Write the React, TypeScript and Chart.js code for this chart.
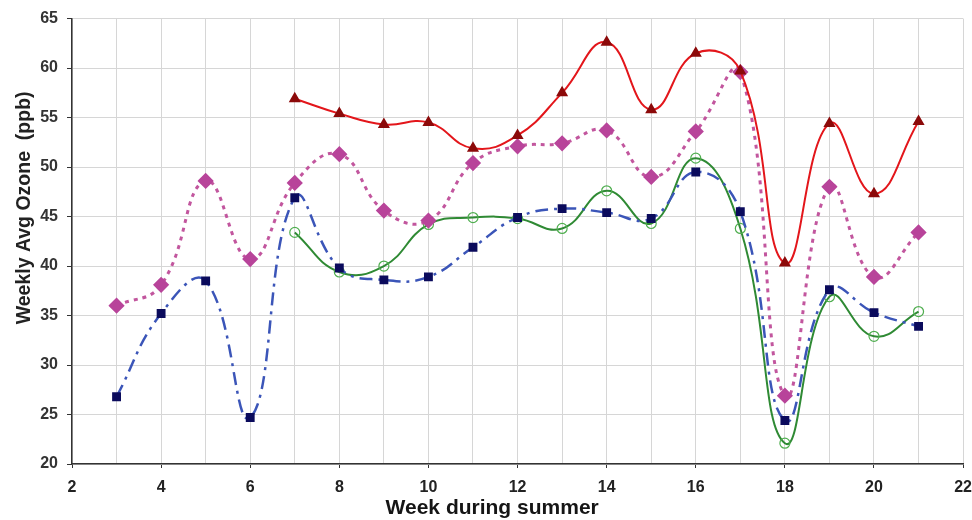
import React, { useEffect, useRef } from "react";
import { Chart, registerables } from "chart.js";

Chart.register(...registerables);

const weeksAll = [3, 4, 5, 6, 7, 8, 9, 10, 11, 12, 13, 14, 15, 16, 17, 18, 19, 20, 21];
const weeksLate = [7, 8, 9, 10, 11, 12, 13, 14, 15, 16, 17, 18, 19, 20, 21];

const redValues = [56.9, 55.4, 54.3, 54.5, 51.9, 53.2, 57.5, 62.6, 55.8, 61.5, 59.7, 40.3, 54.4, 47.3, 54.6];
const magentaValues = [36.0, 38.1, 48.6, 40.7, 48.4, 51.3, 45.6, 44.6, 50.4, 52.1, 52.4, 53.7, 49.0, 53.6, 59.6, 26.9, 48.0, 38.9, 43.4];
const blueValues = [26.8, 35.2, 38.5, 24.7, 46.9, 39.8, 38.6, 38.9, 41.9, 44.9, 45.8, 45.4, 44.8, 49.5, 45.5, 24.4, 37.6, 35.3, 33.9];
const greenValues = [43.4, 39.4, 40.0, 44.2, 44.9, 44.8, 43.8, 47.6, 44.3, 50.9, 43.8, 22.1, 36.9, 32.9, 35.4];

const xTicks = [2, 4, 6, 8, 10, 12, 14, 16, 18, 20, 22];
const yTicks = [20, 25, 30, 35, 40, 45, 50, 55, 60, 65];

const xTitle = "Week during summer";
const yTitle = "Weekly Avg Ozone  (ppb)";

const toPoints = (xs: number[], ys: number[]) => xs.map((x, i) => ({ x, y: ys[i] }));

const FONT = "'Liberation Sans', Arial, sans-serif";

const axisTitles = {
  id: "axisTitles",
  afterDraw(chart: any) {
    const { ctx, chartArea } = chart;
    const w = chartArea.right - chartArea.left;
    const h = chartArea.bottom - chartArea.top;
    ctx.save();
    ctx.fillStyle = "#151515";
    ctx.textAlign = "center";
    ctx.textBaseline = "alphabetic";
    ctx.font = `bold 21px ${FONT}`;
    ctx.fillText(xTitle, chartArea.left + w * 0.4715, chartArea.bottom + 50);
    ctx.translate(chartArea.left - 42, chartArea.top + h * 0.425);
    ctx.rotate(-Math.PI / 2);
    ctx.font = `bold 19.5px ${FONT}`;
    ctx.fillStyle = "#222";
    ctx.fillText(yTitle, 0, 0);
    ctx.restore();
  },
};

export default function App() {
  const ref = useRef<HTMLCanvasElement | null>(null);
  useEffect(() => {
    if (!ref.current) return;
    const chart = new Chart(ref.current, {
      type: "line",
      data: {
        datasets: [
          {
            label: "red",
            data: toPoints(weeksLate, redValues),
            borderColor: "#e3161b",
            borderWidth: 2,
            pointStyle: "triangle",
            pointRadius: 5,
            pointBackgroundColor: "#8c0a0a",
            pointBorderColor: "#8c0a0a",
            tension: 0.45,
          },
          {
            label: "magenta",
            data: toPoints(weeksAll, magentaValues),
            borderColor: "#c2569e",
            borderWidth: 3,
            borderDash: [4, 5],
            pointStyle: "rectRot",
            pointRadius: 6,
            pointBackgroundColor: "#b8449a",
            pointBorderColor: "#b8449a",
            tension: 0.45,
          },
          {
            label: "blue",
            data: toPoints(weeksAll, blueValues),
            borderColor: "#3b55b8",
            borderWidth: 2.5,
            borderDash: [13, 6, 3, 6],
            pointStyle: "rect",
            pointRadius: 4.5,
            pointBackgroundColor: "#0b0b5c",
            pointBorderColor: "#0b0b5c",
            tension: 0.45,
          },
          {
            label: "green",
            data: toPoints(weeksLate, greenValues),
            borderColor: "#2f8a34",
            borderWidth: 2,
            pointStyle: "circle",
            pointRadius: 5,
            pointBackgroundColor: "rgba(255,255,255,0)",
            pointBorderColor: "#4fae4f",
            pointBorderWidth: 1.2,
            tension: 0.45,
          },
        ],
      },
      options: {
        responsive: false,
        animation: false,
        layout: { padding: { top: 14, right: 0, left: 12, bottom: 0 } },
        plugins: { legend: { display: false }, tooltip: { enabled: false } },
        scales: {
          x: {
            type: "linear",
            min: 2,
            max: 22,
            afterBuildTicks: (scale: any) => {
              const t = [];
              for (let v = 2; v <= 22; v++) t.push({ value: v });
              scale.ticks = t;
            },
            afterFit: (scale: any) => {
              scale.height = 56;
            },
            ticks: {
              autoSkip: false,
              maxRotation: 0,
              color: "#222",
              padding: 10,
              font: { family: FONT, size: 16, weight: "bold" },
              callback: (v: any) => (xTicks.includes(Number(v)) ? String(v) : ""),
            },
            grid: {
              color: "#d6d6d6",
              lineWidth: 1,
              tickLength: 4,
              tickColor: (ctx: any) => (ctx.tick && xTicks.includes(ctx.tick.value) ? "#333" : "rgba(0,0,0,0)"),
            },
            border: { color: "#333", width: 1.5 },
          },
          y: {
            min: 20,
            max: 65,
            afterBuildTicks: (scale: any) => {
              scale.ticks = yTicks.map((v) => ({ value: v }));
            },
            afterFit: (scale: any) => {
              scale.width = 60;
            },
            ticks: {
              color: "#333",
              padding: 9,
              font: { family: FONT, size: 16, weight: "bold" },
            },
            grid: {
              color: "#d6d6d6",
              lineWidth: 1,
              tickLength: 5,
              tickColor: "#333",
            },
            border: { color: "#333", width: 1.5 },
          },
        },
      },
      plugins: [axisTitles],
    });
    return () => chart.destroy();
  }, []);
  return (
    <div style={{ position: "fixed", left: 0, top: 0, width: 972, height: 520, overflow: "hidden", background: "#fff" }}>
      <canvas ref={ref} width={982} height={520} style={{ width: 982, height: 520 }} />
    </div>
  );
}
